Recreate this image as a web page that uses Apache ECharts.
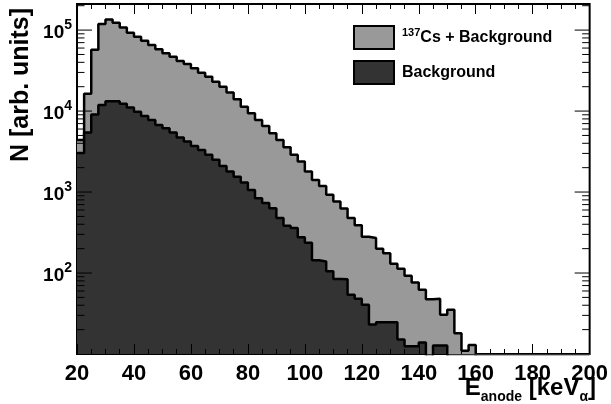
<!DOCTYPE html>
<html>
<head>
<meta charset="utf-8">
<script src="https://cdn.jsdelivr.net/npm/echarts@6/dist/echarts.min.js"></script>
<style>html,body{margin:0;padding:0;background:#fff}#c{width:611px;height:404px}</style>
</head>
<body>
<div id="c"></div>
<script>
// Histogram binning (keV)
const BIN_START = 20;
const BIN_WIDTH = 2.5;
const X_MIN = 20, X_MAX = 200;
const X_TICKS = [20, 40, 60, 80, 100, 120, 140, 160, 180, 200];

// 137Cs + Background counts per bin
const csPlusBackground = [4400,16400,57200,118600,135500,123000,108000,92600,82700,73700,
  65300,57800,51600,46900,41500,38100,33700,29700,26500,23000,
  20000,16900,14000,11300,9390,7770,6550,5320,4400,3580,
  2880,2380,1790,1410,1190,923,763,626,477,388,
  280,270,200,175,130,113,92.6,76.6,62.2,47.3,
  48.2,30.6,35.3,18.0,11.0,12.9,0,0,0,0,
  0,0,0,0,0,0,0,0,0,0,0,0];

// Background counts per bin
const background = [3040,5450,9080,11900,13200,13200,12300,11100,9840,8710,
  7770,6740,6130,5420,4730,4200,3710,3310,2880,2500,
  2100,1790,1550,1310,1060,841,730,633,477,383,
  359,276,236,144,139,105,84.4,83.9,54,48.2,
  40.6,23.1,24.6,24.6,24.6,15.1,12.5,12.5,13.9,0,
  12.7,12.7,0,0,0,0,0,0,0,0,
  0,0,0,0,0,0,0,0,0,0,0,0];

const Y_MIN = 10, Y_MAX = 2.1e5;
const NAME_CS = '137Cs + Background';
const NAME_BG = 'Background';

function stepData(arr) {
  const pts = arr.map((v, i) => [BIN_START + BIN_WIDTH * i, v > 0 ? v : 1]);
  const last = arr[arr.length - 1];
  pts.push([BIN_START + BIN_WIDTH * arr.length, last > 0 ? last : 1]);
  return pts;
}

// y tick marks for log axis (decades and 2..9 subdivisions)
const yTicks = [];
for (let e = 1; e <= 5; e++) {
  for (let k = 1; k <= 9; k++) {
    const v = k * Math.pow(10, e);
    if (v > Y_MIN && v < Y_MAX) yTicks.push([v, k === 1 ? 1 : 0]);
  }
}

const FONT = 'Liberation Sans, Arial, Helvetica, sans-serif';
const chart = echarts.init(document.getElementById('c'), null, {renderer: 'canvas'});

const xCommon = {
  type: 'value', min: X_MIN, max: X_MAX, interval: 20, z: 5,
  axisLine: {show: false},
  axisTick: {show: true, inside: true, length: 10, lineStyle: {color: '#000', width: 1}},
  minorTick: {show: true, splitNumber: 4, length: 5, lineStyle: {color: '#000', width: 1}},
  splitLine: {show: false}
};

chart.setOption({
  animation: false,
  backgroundColor: '#fff',
  grid: {left: 77, right: 20, top: 4, bottom: 50, show: true, borderColor: '#000', borderWidth: 2, backgroundColor: 'transparent'},
  legend: {
    orient: 'vertical', left: 353, top: 25, itemWidth: 40, itemHeight: 23, itemGap: 10, padding: 0,
    data: [{name: NAME_CS, icon: 'rect'}, {name: NAME_BG, icon: 'rect'}],
    itemStyle: {borderColor: '#000', borderWidth: 2},
    formatter: n => n === NAME_CS ? '{sup|137}{t|Cs + Background}' : '{t|Background}',
    textStyle: {
      padding: [0, 0, 0, 3],
      rich: {
        t: {fontFamily: FONT, fontWeight: 'bold', fontSize: 16, color: '#000', lineHeight: 20},
        sup: {fontFamily: FONT, fontWeight: 'bold', fontSize: 11, color: '#000', verticalAlign: 'top', lineHeight: 12}
      }
    }
  },
  xAxis: [
    Object.assign({}, xCommon, {
      position: 'bottom',
      axisLabel: {show: true, margin: 9, color: '#000', fontFamily: FONT, fontWeight: 'bold', fontSize: 22,
        customValues: X_TICKS}
    }),
    Object.assign({}, xCommon, {position: 'top', axisLabel: {show: false}})
  ],
  yAxis: {
    type: 'log', logBase: 10, min: Y_MIN, max: Y_MAX,
    axisLine: {show: false}, axisTick: {show: false}, splitLine: {show: false}, minorTick: {show: false},
    axisLabel: {
      margin: 5, showMinLabel: false, showMaxLabel: false,
      formatter: v => {
        const e = Math.log10(v); const r = Math.round(e);
        if (Math.abs(e - r) > 1e-6 || r < 2) return '';
        return '{b|10}{s|' + r + '}';
      },
      rich: {
        b: {fontFamily: FONT, fontWeight: 'bold', fontSize: 19, color: '#000', lineHeight: 24, verticalAlign: 'bottom'},
        s: {fontFamily: FONT, fontWeight: 'bold', fontSize: 14, color: '#000', lineHeight: 24, verticalAlign: 'top'}
      }
    }
  },
  series: [
    {
      name: NAME_CS, type: 'line', step: 'end', showSymbol: false, symbol: 'none', z: 2,
      data: stepData(csPlusBackground),
      itemStyle: {color: '#999999'},
      lineStyle: {color: '#000', width: 2.5},
      areaStyle: {color: '#999999', opacity: 1, origin: 'start'}
    },
    {
      name: NAME_BG, type: 'line', step: 'end', showSymbol: false, symbol: 'none', z: 3,
      data: stepData(background),
      itemStyle: {color: '#333333'},
      lineStyle: {color: '#000', width: 2.5},
      areaStyle: {color: '#333333', opacity: 1, origin: 'start'}
    },
    {
      type: 'custom', z: 10, silent: true, clip: false,
      encode: {y: 0, x: 1},
      data: yTicks,
      renderItem: (params, api) => {
        const v = api.value(0);
        const major = api.value(1) === 1;
        const len = major ? 15 : 7.5;
        const l = api.coord([X_MIN, v]);
        const r = api.coord([X_MAX, v]);
        return {type: 'group', children: [
          {type: 'line', shape: {x1: l[0], y1: l[1], x2: l[0] + len, y2: l[1]}, style: {stroke: '#000', lineWidth: 1}},
          {type: 'line', shape: {x1: r[0], y1: r[1], x2: r[0] - len, y2: r[1]}, style: {stroke: '#000', lineWidth: 1}}
        ]};
      }
    }
  ],
  graphic: [
    {
      type: 'text', x: 21, y: 85, rotation: Math.PI / 2,
      style: {text: 'N [arb. units]', fontFamily: FONT, fontWeight: 'bold', fontSize: 25, fill: '#000', align: 'center', verticalAlign: 'middle'}
    },
    {
      type: 'text', x: 596, y: 390,
      style: {
        text: '{m|E}{sub|anode}{m| [keV}{sub|α}{m|]}', align: 'right', verticalAlign: 'middle',
        rich: {
          m: {fontFamily: FONT, fontWeight: 'bold', fontSize: 24, fill: '#000', lineHeight: 28, verticalAlign: 'top'},
          sub: {fontFamily: FONT, fontWeight: 'bold', fontSize: 14, fill: '#000', lineHeight: 28, verticalAlign: 'bottom'}
        }
      }
    }
  ]
});
</script>
</body>
</html>
